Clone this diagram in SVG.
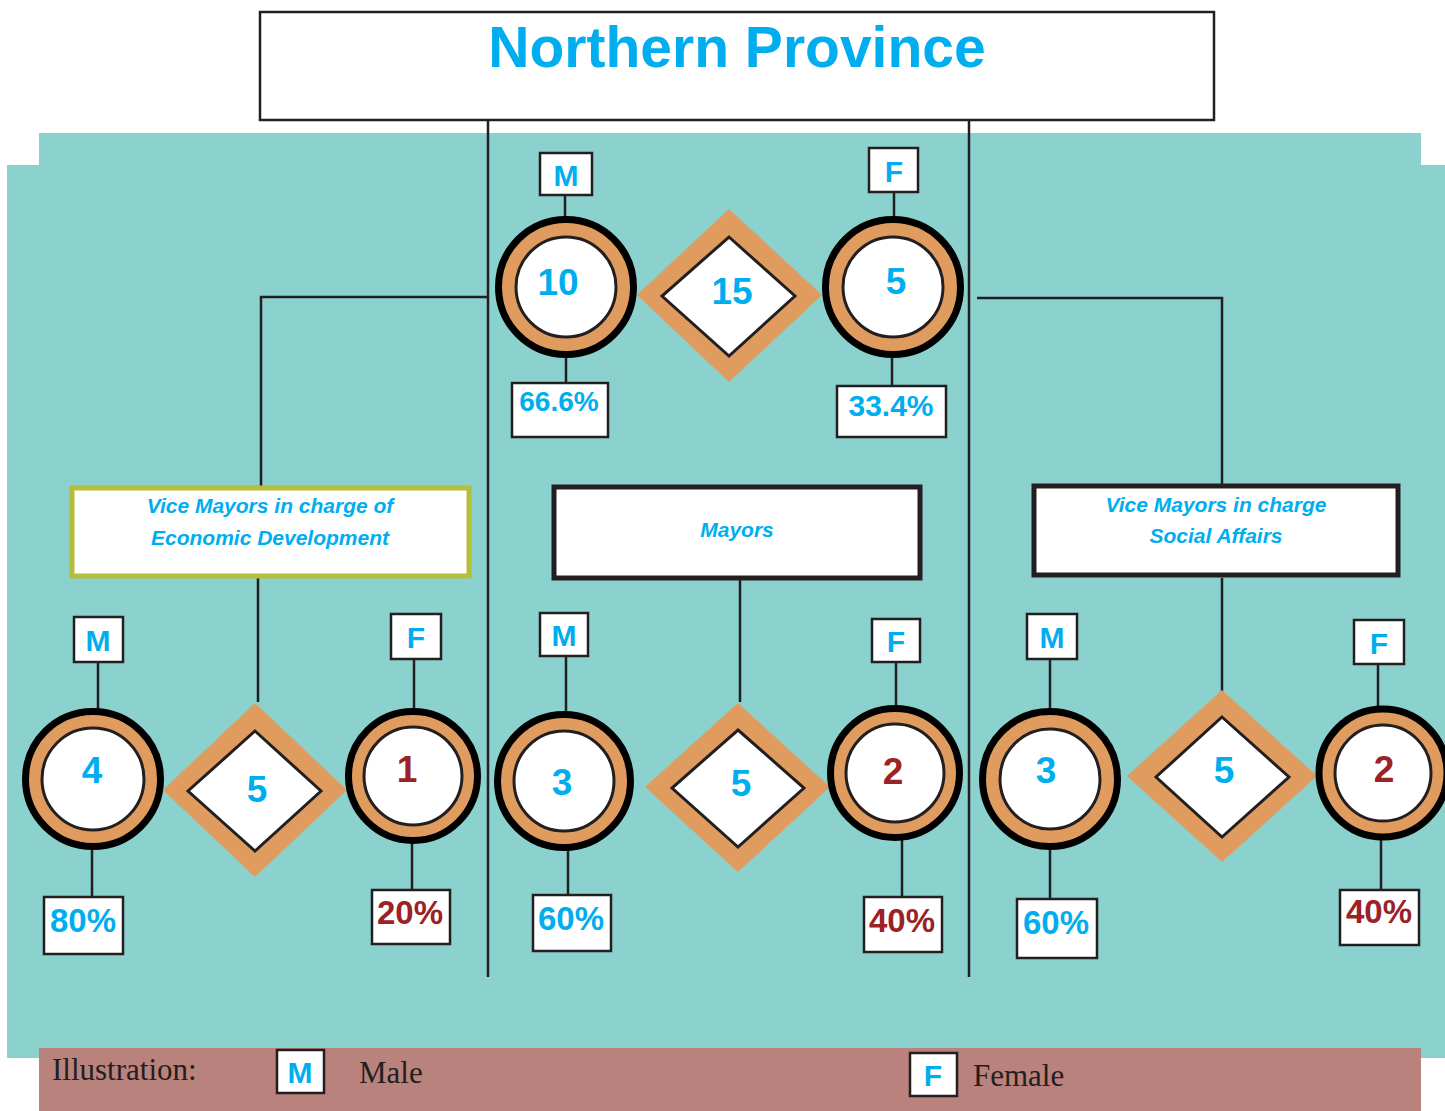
<svg xmlns="http://www.w3.org/2000/svg" width="1445" height="1111" viewBox="0 0 1445 1111">
<style>
.bg{fill:#8bd1cd}
.ln{stroke:#231f20;stroke-width:2.5;fill:none}
.box{fill:#fff;stroke:#231f20;stroke-width:2.5}
.ring{fill:#e09c5e;stroke:#000;stroke-width:7}
.inner{fill:#fff;stroke:#231f20;stroke-width:3}
.dia{fill:#e09c5e}
.idia{fill:#fff;stroke:#231f20;stroke-width:3}
.t{font-family:"Liberation Sans",Arial,sans-serif;font-weight:bold;text-anchor:middle}
.b{fill:#00aeef}
.r{fill:#9b2226}
.num{font-size:37px}
.lab{font-size:30px}
.pct{font-size:33px}
.vm{font-family:"Liberation Sans",Arial,sans-serif;font-style:italic;font-weight:bold;font-size:21px;fill:#00aeef;text-anchor:middle}
.leg{font-family:"Liberation Serif","Times New Roman",serif;font-size:31px;fill:#231f20}
</style>
<rect width="1445" height="1111" fill="#fff"/>
<path class="bg" d="M39 133H1421V165H1445V1058H7V165H39Z"/>
<rect x="39" y="1048" width="1382" height="63" fill="#b9827c"/>

<g id="title">
<rect x="260" y="12" width="954" height="108" class="box"/>
<text x="737" y="67" class="t b" style="font-size:57px">Northern Province</text>
</g>

<g id="connectors">
<line class="ln" x1="488" y1="120" x2="488" y2="977"/>
<line class="ln" x1="969" y1="120" x2="969" y2="977"/>
<polyline class="ln" points="488,297 261,297 261,487"/>
<polyline class="ln" points="977,298 1222,298 1222,485"/>
<line class="ln" x1="565" y1="195" x2="565" y2="218"/>
<line class="ln" x1="894" y1="192" x2="894" y2="218"/>
<line class="ln" x1="566" y1="355" x2="566" y2="384"/>
<line class="ln" x1="892" y1="355" x2="892" y2="387"/>
<line class="ln" x1="258" y1="578" x2="258" y2="702"/>
<line class="ln" x1="740" y1="579" x2="740" y2="702"/>
<line class="ln" x1="1222" y1="578" x2="1222" y2="699"/>
<line class="ln" x1="98" y1="662" x2="98" y2="710"/>
<line class="ln" x1="414" y1="659" x2="414" y2="710"/>
<line class="ln" x1="566" y1="656" x2="566" y2="712"/>
<line class="ln" x1="896" y1="662" x2="896" y2="708"/>
<line class="ln" x1="1050" y1="659" x2="1050" y2="710"/>
<line class="ln" x1="1378" y1="664" x2="1378" y2="708"/>
<line class="ln" x1="92" y1="848" x2="92" y2="897"/>
<line class="ln" x1="412" y1="841" x2="412" y2="890"/>
<line class="ln" x1="568" y1="849" x2="568" y2="895"/>
<line class="ln" x1="902" y1="838" x2="902" y2="897"/>
<line class="ln" x1="1050" y1="848" x2="1050" y2="899"/>
<line class="ln" x1="1381" y1="838" x2="1381" y2="890"/>
</g>

<g id="top-m-label"><rect x="540" y="153" width="52" height="42" class="box"/><text x="566" y="186" class="t b lab">M</text></g>
<g id="top-f-label"><rect x="869" y="148" width="49" height="44" class="box"/><text x="894" y="182" class="t b lab">F</text></g>
<g id="top-m"><circle cx="566" cy="287" r="67.5" class="ring"/><circle cx="566" cy="287" r="50" class="inner"/><text x="558" y="295" class="t b num">10</text></g>
<g id="top-total"><polygon points="729,209 822,295 729,382 637,295" class="dia"/><polygon points="729,237 795,296 729,356 662,296" class="idia"/><text x="732" y="304" class="t b num">15</text></g>
<g id="top-f"><circle cx="893" cy="287" r="67.5" class="ring"/><circle cx="893" cy="287" r="50" class="inner"/><text x="896" y="294" class="t b num">5</text></g>
<g id="top-m-pct"><rect x="512" y="383" width="96" height="54" class="box"/><text x="559" y="411" class="t b" style="font-size:28px">66.6%</text></g>
<g id="top-f-pct"><rect x="837" y="386" width="109" height="51" class="box"/><text x="891" y="416" class="t b" style="font-size:30px">33.4%</text></g>

<g id="vm-economic"><rect x="72" y="488" width="397" height="88" fill="#fff" stroke="#b5bd3c" stroke-width="5"/><text x="270" y="513" class="vm">Vice Mayors in charge of</text><text x="270" y="545" class="vm">Economic Development</text></g>
<g id="mayors"><rect x="554" y="487" width="366" height="91" fill="#fff" stroke="#231f20" stroke-width="5"/><text x="737" y="537" class="vm">Mayors</text></g>
<g id="vm-social"><rect x="1034" y="486" width="364" height="89" fill="#fff" stroke="#231f20" stroke-width="5"/><text x="1216" y="512" class="vm">Vice Mayors in charge</text><text x="1216" y="543" class="vm">Social Affairs</text></g>

<g id="eco-m-label"><rect x="74" y="617" width="49" height="45" class="box"/><text x="98" y="651" class="t b lab">M</text></g>
<g id="eco-f-label"><rect x="391" y="614" width="50" height="45" class="box"/><text x="416" y="648" class="t b lab">F</text></g>
<g id="eco-m"><circle cx="93" cy="779" r="67.5" class="ring"/><circle cx="93" cy="779" r="51" class="inner"/><text x="92" y="783" class="t b num">4</text></g>
<g id="eco-total"><polygon points="255,703 347,790 255,877 163,790" class="dia"/><polygon points="255,731 321,791 255,851 188,791" class="idia"/><text x="257" y="802" class="t b num">5</text></g>
<g id="eco-f"><circle cx="413" cy="776" r="64.5" class="ring"/><circle cx="413" cy="776" r="49" class="inner"/><text x="407" y="782" class="t r num">1</text></g>
<g id="eco-m-pct"><rect x="44" y="897" width="79" height="57" class="box"/><text x="83" y="932" class="t b pct">80%</text></g>
<g id="eco-f-pct"><rect x="372" y="890" width="78" height="54" class="box"/><text x="410" y="924" class="t r pct">20%</text></g>

<g id="may-m-label"><rect x="540" y="613" width="48" height="43" class="box"/><text x="564" y="646" class="t b lab">M</text></g>
<g id="may-f-label"><rect x="872" y="619" width="48" height="43" class="box"/><text x="896" y="652" class="t b lab">F</text></g>
<g id="may-m"><circle cx="564" cy="781" r="66.5" class="ring"/><circle cx="564" cy="781" r="50" class="inner"/><text x="562" y="795" class="t b num">3</text></g>
<g id="may-total"><polygon points="738,703 830,787 738,872 645,787" class="dia"/><polygon points="738,730 804,788 738,847 672,788" class="idia"/><text x="741" y="796" class="t b num">5</text></g>
<g id="may-f"><circle cx="895" cy="773" r="64.5" class="ring"/><circle cx="895" cy="773" r="49" class="inner"/><text x="893" y="784" class="t r num">2</text></g>
<g id="may-m-pct"><rect x="533" y="895" width="78" height="56" class="box"/><text x="571" y="930" class="t b pct">60%</text></g>
<g id="may-f-pct"><rect x="864" y="897" width="78" height="55" class="box"/><text x="902" y="932" class="t r pct">40%</text></g>

<g id="soc-m-label"><rect x="1027" y="614" width="50" height="45" class="box"/><text x="1052" y="648" class="t b lab">M</text></g>
<g id="soc-f-label"><rect x="1354" y="620" width="50" height="44" class="box"/><text x="1379" y="654" class="t b lab">F</text></g>
<g id="soc-m"><circle cx="1050" cy="779" r="67.5" class="ring"/><circle cx="1050" cy="779" r="50" class="inner"/><text x="1046" y="783" class="t b num">3</text></g>
<g id="soc-total"><polygon points="1222,690 1317,776 1222,862 1127,776" class="dia"/><polygon points="1222,717 1289,777 1222,837 1156,777" class="idia"/><text x="1224" y="783" class="t b num">5</text></g>
<g id="soc-f"><circle cx="1383" cy="773" r="64" class="ring"/><circle cx="1383" cy="773" r="48" class="inner"/><text x="1384" y="782" class="t r num">2</text></g>
<g id="soc-m-pct"><rect x="1017" y="899" width="80" height="59" class="box"/><text x="1056" y="934" class="t b pct">60%</text></g>
<g id="soc-f-pct"><rect x="1340" y="890" width="79" height="55" class="box"/><text x="1379" y="923" class="t r pct">40%</text></g>

<g id="legend">
<text x="52" y="1080" class="leg">Illustration:</text>
<rect x="277" y="1050" width="47" height="43" class="box"/><text x="300" y="1083" class="t b lab">M</text>
<text x="359" y="1083" class="leg">Male</text>
<rect x="910" y="1053" width="47" height="43" class="box"/><text x="933" y="1086" class="t b lab">F</text>
<text x="973" y="1086" class="leg">Female</text>
</g>
</svg>
